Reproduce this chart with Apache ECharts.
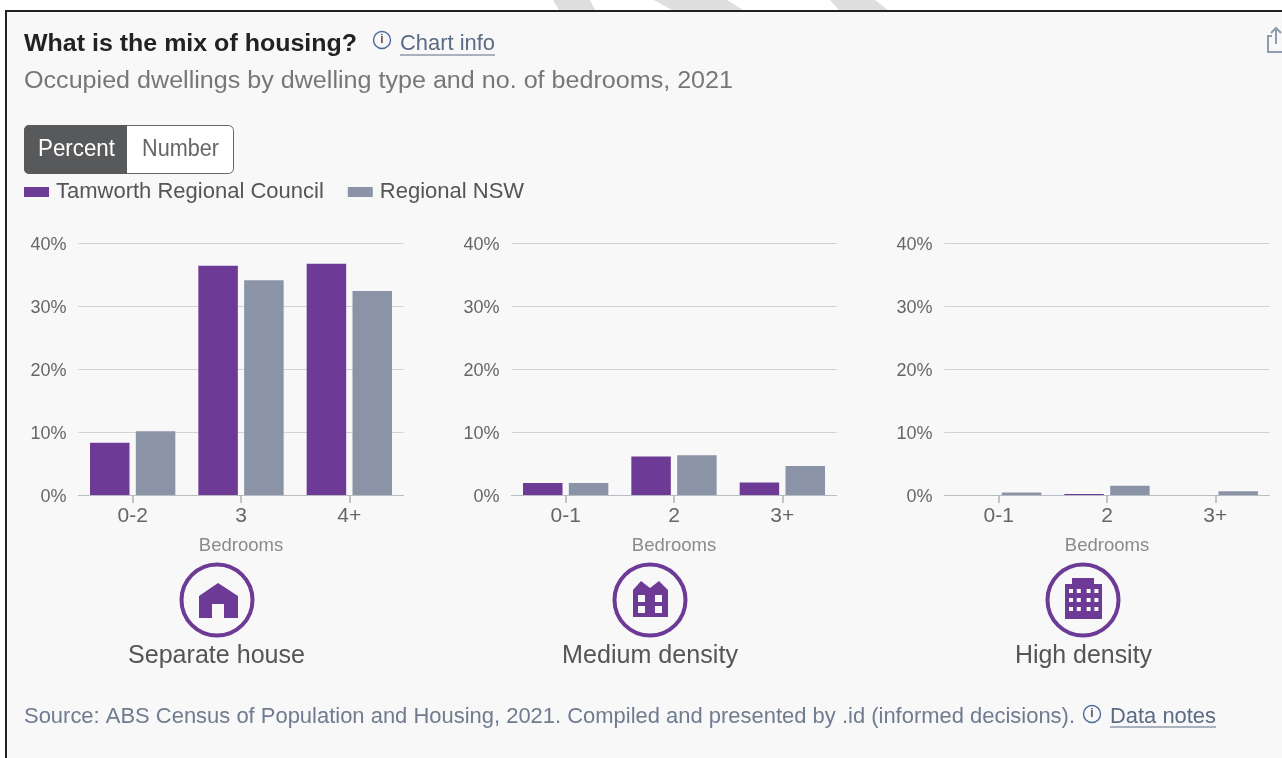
<!DOCTYPE html>
<html><head><meta charset="utf-8">
<style>html,body{margin:0;padding:0;background:#fff}#c{width:1282px;height:758px}</style>
<script src="https://cdn.jsdelivr.net/npm/echarts@6/dist/echarts.min.js"></script>
</head><body><div id="c"></div>
<script>
const houseCategories = ['0-2','3','4+'];
const densityCategories = ['0-1','2','3+'];
const tamworthSeparate = [8.3,36.4,36.7];
const nswSeparate = [10.1,34.1,32.4];
const tamworthMedium = [1.9,6.1,2.0];
const nswMedium = [1.9,6.3,4.6];
const tamworthHigh = [0,0.15,0];
const nswHigh = [0.4,1.45,0.6];
const seriesNames = ['Tamworth Regional Council','Regional NSW'];
const panelLabels = ['Separate house','Medium density','High density'];

const PURPLE='#6d3a96', GREY='#8a94a6', FONT='"Liberation Sans", Arial, sans-serif';
const lefts=[78.5,511.5,944.5], W=325, TOP=243, H=252;
const panels=[
 {cats:houseCategories,a:tamworthSeparate,b:nswSeparate},
 {cats:densityCategories,a:tamworthMedium,b:nswMedium},
 {cats:densityCategories,a:tamworthHigh,b:nswHigh}];
const grid=[],xAxis=[],yAxis=[],series=[];
panels.forEach((p,i)=>{
 grid.push({left:lefts[i],top:TOP,width:W,height:H});
 xAxis.push({type:'category',gridIndex:i,data:p.cats,name:'Bedrooms',nameLocation:'middle',nameGap:41,
  nameTextStyle:{color:'#8a8a8a',fontSize:18.5,fontFamily:FONT},
  axisLine:{lineStyle:{color:'#b9bcc2',width:1}},
  axisTick:{show:true,alignWithLabel:true,length:8,lineStyle:{color:'#b0b3b8',width:1.5}},
  axisLabel:{color:'#666',fontSize:21,fontFamily:FONT,margin:11},splitLine:{show:false}});
 yAxis.push({type:'value',gridIndex:i,min:0,max:40,interval:10,
  axisLine:{show:false},axisTick:{show:false},
  axisLabel:{color:'#666',fontSize:18,fontFamily:FONT,margin:12,verticalAlign:'top',padding:[-7,0,0,0],formatter:'{value}%'},
  splitLine:{lineStyle:{color:'#d0d2d5',width:1}}});
 series.push({type:'bar',name:seriesNames[0],xAxisIndex:i,yAxisIndex:i,data:p.a,barWidth:39.5,barGap:'16%',itemStyle:{color:PURPLE},z:3});
 series.push({type:'bar',name:seriesNames[1],xAxisIndex:i,yAxisIndex:i,data:p.b,barWidth:39.5,barGap:'16%',itemStyle:{color:GREY},z:3});
});
const mctx=document.createElement('canvas').getContext('2d');
function txt(x,y,t,font,fill,align,width){
 const f=font+' '+FONT; let sx=1;
 if(width){mctx.font=f;sx=width/mctx.measureText(t).width;}
 return {type:'text',x,y,scaleX:sx,silent:true,z:5,style:{text:t,font:f,fill,align:align||'left',verticalAlign:'middle'}};}
function line(x1,y1,x2,y2,c,w){return {type:'line',silent:true,z:5,shape:{x1,y1,x2,y2},style:{stroke:c,lineWidth:w||1}};}
function info(x,y){return [{type:'circle',silent:true,z:5,shape:{cx:x,cy:y,r:8.5},style:{fill:'none',stroke:'#4a6a9c',lineWidth:1.4}},
 txt(x,y,'i','bold 12px','#555','center')];}
function ring(cx){return {type:'circle',silent:true,z:5,shape:{cx,cy:600,r:35.5},style:{fill:'none',stroke:PURPLE,lineWidth:4}};}
function poly(pts,fill){return {type:'polygon',silent:true,z:6,shape:{points:pts},style:{fill:fill||PURPLE}};}
function rect(x,y,w,h,fill,r){return {type:'rect',silent:true,z:6,shape:{x,y,width:w,height:h,r:r||0},style:{fill}};}
const BG='#f8f8f8', STRIPE='#dedede';
const graphic=[
 {type:'rect',silent:true,z:-10,shape:{x:0,y:0,width:1282,height:758},style:{fill:'#fff'}},
 {type:'polygon',silent:true,z:-10,shape:{points:[[553,0],[590,0],[595,10],[559,10]]},style:{fill:STRIPE}},
 {type:'polygon',silent:true,z:-10,shape:{points:[[654,0],[727,0],[743,10],[672,10]]},style:{fill:STRIPE}},
 {type:'polygon',silent:true,z:-10,shape:{points:[[830,0],[875,0],[888,10],[839,10]]},style:{fill:STRIPE}},
 {type:'rect',silent:true,z:-9,shape:{x:6,y:11,width:1290,height:760},style:{fill:BG,stroke:'#222',lineWidth:2}},
 txt(24,45,'What is the mix of housing?','bold 23px','#222','left',333),
 ...info(382,40),
 txt(400,44,'Chart info','22px','#5a6b85','left',95),line(400,55,495,55,'#5a6b85'),
 txt(24,82,'Occupied dwellings by dwelling type and no. of bedrooms, 2021','23px','#777','left',709),
 {type:'rect',silent:true,z:5,shape:{x:24.5,y:125.5,width:209,height:48,r:5},style:{fill:'#fff',stroke:'#666',lineWidth:1}},
 {type:'rect',silent:true,z:5,shape:{x:24,y:125,width:103,height:49,r:[5,0,0,5]},style:{fill:'#58595b'}},
 txt(76.5,150,'Percent','23px','#fff','center',77),
 txt(180.5,150,'Number','23px','#666','center',77),
 ring(217),ring(650),ring(1083),
 // house icon
 poly([[218,583],[238,596],[238,618],[224,618],[224,604],[212,604],[212,618],[199,618],[199,596]]),
 // medium density icon
 poly([[633,617],[633,590],[641,581],[650,588],[659,581],[668,590],[668,617]]),
 rect(638,595,7,7,BG),rect(655,595,7,7,BG),rect(638,606,7,7,BG),rect(655,606,7,7,BG),
 // high density icon
 rect(1072,578,22,6,PURPLE),rect(1065,584,37,35,PURPLE),
 ...[0,1,2].flatMap(r=>[0,1,2,3].map(c=>rect(1069+c*7.8+(c>1?2:0),589+r*9,4,4,BG))),
 txt(216.5,656,panelLabels[0],'25px','#555','center',177),
 txt(650,656,panelLabels[1],'25px','#555','center',176),
 txt(1083.5,656,panelLabels[2],'25px','#555','center',137),
 txt(24,717,'Source: ABS Census of Population and Housing, 2021. Compiled and presented by .id (informed decisions).','22px','#6f7b8f','left',1051),
 ...info(1092,714),
 txt(1110,717,'Data notes','22px','#5a6b85','left',106),line(1110,727,1216,727,'#5a6b85'),
 // share icon
 {type:'polyline',silent:true,z:5,shape:{points:[[1272,36],[1268,36],[1268,52],[1282,52]]},style:{stroke:'#8f9bb0',lineWidth:2,fill:'none'}},
 line(1276,28,1276,44,'#8f9bb0',2),
 {type:'polyline',silent:true,z:5,shape:{points:[[1271,33],[1276,28],[1281,33]]},style:{stroke:'#8f9bb0',lineWidth:2,fill:'none'}}
];
const chart=echarts.init(document.getElementById('c'),null,{renderer:'canvas'});
chart.setOption({
 animation:false,backgroundColor:'transparent',
 legend:{left:19,top:176,itemWidth:25,itemHeight:10,itemGap:24,icon:'rect',data:seriesNames,selectedMode:false,
  textStyle:{color:'#555',fontSize:22,fontFamily:FONT,padding:[0,0,0,2]}},
 grid,xAxis,yAxis,series,graphic:{elements:graphic}
});
</script></body></html>
